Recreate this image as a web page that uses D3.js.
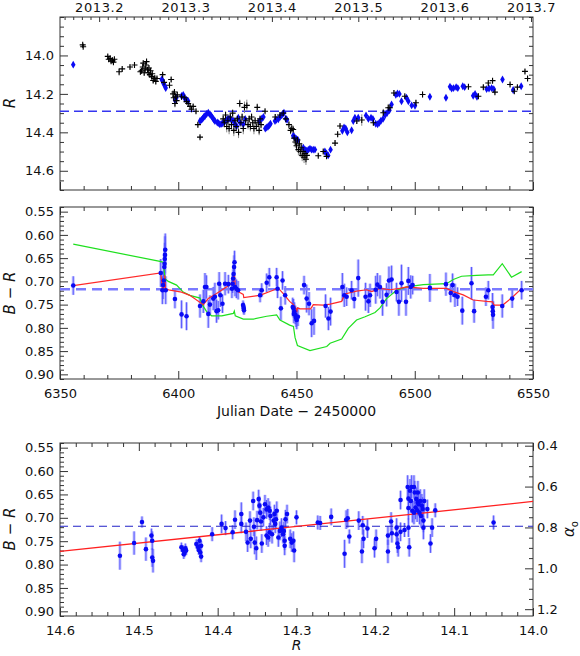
<!DOCTYPE html>
<html><head><meta charset="utf-8">
<script src="https://cdn.jsdelivr.net/npm/d3@7"></script>
<style>
body{margin:0;background:#fff}
svg text{font-family:"DejaVu Sans",sans-serif;fill:#111}
</style>
</head><body>
<svg id="c" width="580" height="656"></svg>
<script>
// ---------------- DATA ----------------
// Top panel: black R photometry (JD-2450000, R, error)
const blackJD = [6359.6,6359.8,6370.2,6370.6,6371.2,6371.6,6372.2,6372.6,6373.0,6375.0,6376.3,6379.6,6381.5,
6384.0,6384.5,6385.0,6385.2,6385.6,6386.0,6386.3,6386.6,6387.0,6387.3,6387.6,6388.0,6388.3,6388.7,6389.0,6389.4,6389.8,6390.1,6390.5,6391.0,
6393.4,6394.0,6396.3,6397.0,6397.8,6398.1,6398.4,6398.6,6398.9,6399.3,6399.6,6401.4,6402.8,6403.5,6404.2,6405.0,6405.6,6406.3,6407.5,6408.3,6409.2,
6419.0,6419.5,6420.0,6420.5,6421.0,6421.5,6422.0,6422.5,6423.0,6423.5,6424.0,6424.5,6425.0,6425.5,6426.0,6426.5,6427.0,6427.5,6428.0,6428.5,
6429.0,6429.5,6430.0,6430.5,6431.0,6431.5,6432.0,6432.5,6433.0,6433.4,6433.8,6434.2,6434.6,6435.0,6436.7,
6441.0,6443.0,6444.4,6445.5,6446.8,6447.5,6448.0,6448.6,6449.0,6449.5,6450.0,6450.4,6450.8,6451.2,6451.6,6452.0,6452.4,6452.8,6453.2,6453.6,6454.0,6454.4,
6459.2,6461.3,6462.7,6466.3,6467.4,6468.4,6475.5,6477.6,6482.5,6486.7,6488.8,6489.5,6491.2,6495.8,6500.5,6503.3,
6522.7,6526.9,6529.0,6531.1,6532.9,6533.9,6540.3,6542.1,6543.4,6546.6,6547.7];
const blackR = [13.945,13.955,14.005,14.02,14.015,14.03,14.025,14.035,14.02,14.085,14.07,14.06,14.05,
14.085,14.08,14.06,14.04,14.09,14.07,14.05,14.032,14.075,14.09,14.065,14.1,14.08,14.11,14.095,14.13,14.12,14.118,14.135,14.12,
14.1,14.14,14.155,14.125,14.2,14.22,14.19,14.25,14.215,14.235,14.205,14.215,14.22,14.24,14.25,14.265,14.28,14.265,14.29,14.36,14.425,
14.33,14.35,14.31,14.37,14.34,14.38,14.32,14.36,14.3,14.39,14.34,14.37,14.33,14.4,14.25,14.35,14.32,14.38,14.27,14.34,
14.26,14.36,14.33,14.37,14.32,14.35,14.38,14.34,14.37,14.27,14.35,14.39,14.33,14.36,14.29,
14.32,14.31,14.30,14.33,14.36,14.39,14.38,14.385,14.43,14.45,14.47,14.44,14.49,14.46,14.5,14.48,14.52,14.5,14.53,14.51,14.54,14.52,
14.522,14.50,14.525,14.456,14.41,14.367,14.341,14.336,14.35,14.298,14.272,14.272,14.195,14.212,14.246,14.203,
14.163,14.212,14.165,14.143,14.131,14.191,14.151,14.186,14.165,14.083,14.12];
const blackErr = [0.008,0.008,0.01,0.01,0.01,0.012,0.01,0.012,0.01,0.02,0.012,0.01,0.01,
0.015,0.015,0.012,0.015,0.015,0.012,0.012,0.01,0.015,0.015,0.012,0.015,0.012,0.015,0.012,0.015,0.015,0.012,0.015,0.012,
0.012,0.015,0.012,0.012,0.02,0.02,0.015,0.02,0.015,0.015,0.015,0.012,0.012,0.015,0.012,0.015,0.015,0.012,0.012,0.015,0.01,
0.02,0.025,0.02,0.03,0.02,0.03,0.02,0.025,0.02,0.03,0.02,0.025,0.02,0.03,0.02,0.025,0.02,0.03,0.03,0.02,
0.03,0.025,0.02,0.025,0.02,0.02,0.03,0.02,0.025,0.02,0.02,0.025,0.02,0.02,0.01,
0.015,0.015,0.015,0.02,0.02,0.02,0.02,0.02,0.03,0.03,0.03,0.02,0.03,0.025,0.03,0.025,0.03,0.025,0.03,0.025,0.03,0.025,
0.008,0.01,0.01,0.015,0.015,0.01,0.015,0.03,0.015,0.02,0.02,0.02,0.015,0.01,0.015,0.015,
0.01,0.015,0.012,0.012,0.012,0.012,0.01,0.012,0.01,0.012,0.012];

// Top panel: blue R photometry (JD-2450000, R)
const blueJD = [6355.6,6393.0,6393.4,6393.7,6394.0,6394.4,6394.7,6398.6,6399.2,6401.4,6402.1,6402.8,6403.5,6404.2,
6409.2,6409.8,6410.3,6410.8,6411.3,6412.0,6412.7,6413.4,6414.0,6414.5,6415.0,6415.5,6416.5,6417.0,6417.6,6418.2,6418.8,
6420.0,6420.7,6421.3,6421.9,6422.5,6423.3,6424.0,6424.7,6425.4,6426.1,6427.5,6428.3,6434.3,6435.3,6436.0,
6436.8,6437.4,6438.0,6438.5,6439.0,6440.9,6441.5,6442.3,6443.0,6443.7,6444.2,6444.7,6445.5,6446.0,
6448.6,6449.2,6450.0,6450.6,6452.9,6453.6,6454.3,6455.0,6455.7,6456.4,6457.1,6457.8,6462.0,6462.7,6463.4,6464.4,
6469.4,6470.1,6470.8,6471.5,6473.3,6474.0,6474.7,6476.1,6479.4,6480.4,6481.5,6482.3,6483.5,6484.3,6485.0,6485.7,
6486.6,6487.5,6488.3,6489.3,6490.2,6492.0,6492.7,6493.5,6494.4,6496.5,6497.3,6498.7,6500.1,6506.4,6513.2,
6514.9,6515.6,6516.4,6517.5,6518.2,6520.3,6521.1,6524.7,6525.5,6526.3,6530.4,6531.4,6532.5,6533.4,6537.1,6541.6,6545.0];
const blueR = [14.048,14.125,14.13,14.143,14.15,14.16,14.17,14.232,14.22,14.211,14.205,14.225,14.23,14.237,
14.341,14.335,14.329,14.32,14.315,14.305,14.298,14.306,14.315,14.324,14.333,14.341,14.349,14.352,14.358,14.356,14.353,
14.34,14.332,14.33,14.329,14.335,14.341,14.36,14.367,14.324,14.349,14.358,14.33,14.341,14.329,14.32,
14.38,14.375,14.37,14.363,14.355,14.341,14.335,14.332,14.32,14.311,14.305,14.298,14.329,14.335,
14.418,14.425,14.435,14.44,14.48,14.49,14.495,14.49,14.485,14.49,14.49,14.49,14.50,14.51,14.52,14.49,
14.392,14.375,14.38,14.40,14.389,14.341,14.324,14.324,14.312,14.33,14.324,14.33,14.355,14.358,14.35,14.34,
14.33,14.31,14.30,14.285,14.255,14.205,14.198,14.20,14.238,14.22,14.238,14.26,14.262,14.215,14.22,
14.163,14.172,14.17,14.165,14.17,14.16,14.165,14.21,14.20,14.215,14.175,14.172,14.17,14.175,14.125,14.18,14.16];
const meanR = 14.29;

// Year ticks for the top axis
const yearLabels = ["2013.2","2013.3","2013.4","2013.5","2013.6","2013.7"];

// Middle panel: B-R colour vs time
const colJD = [6355.6,6392.6,6393.3,6393.6,6393.9,6394.1,6394.2,6394.3,6394.4,6394.5,6394.7,6398.6,6401.4,6403.5,
6409.2,6410.6,6411.3,6411.9,6412.7,6413.4,6414.8,6415.5,6416.2,6416.9,6417.3,6417.8,6418.7,6419.8,6421.2,
6422.7,6423.0,6423.2,6423.4,6423.6,6423.8,6424.0,6424.6,6425.3,6427.4,6427.6,6427.7,6427.8,6434.6,6435.3,
6437.4,6438.5,6441.6,6442.0,6443.4,6444.1,6445.2,6448.4,6448.7,6449.1,6449.5,6449.8,6450.1,6450.6,6448.9,
6453.2,6454.3,6455.3,6456.4,6457.4,6462.3,6463.5,6464.4,6469.4,6470.2,6471.2,6473.3,6474.4,6476.1,6479.2,
6480.4,6481.1,6483.5,6484.2,6485.3,6486.4,6488.1,6489.1,6490.2,6492.3,6493.3,6494.4,6496.3,6497.3,6498.3,
6499.1,6506.4,6513.2,6515.2,6516.0,6517.0,6518.1,6520.1,6524.0,6525.1,6530.1,6531.1,6532.9,6533.0,6533.1,
6537.0,6541.2,6545.2];
const colBR = [0.709,0.682,0.719,0.708,0.698,0.669,0.662,0.652,0.643,0.632,0.719,0.738,0.771,0.775,
0.753,0.743,0.712,0.712,0.770,0.750,0.737,0.733,0.764,0.762,0.705,0.730,0.748,0.705,0.706,
0.716,0.705,0.694,0.684,0.669,0.659,0.712,0.716,0.719,0.751,0.755,0.759,0.762,0.730,0.719,
0.703,0.691,0.691,0.716,0.758,0.698,0.730,0.755,0.758,0.765,0.772,0.778,0.783,0.776,0.770,
0.708,0.737,0.748,0.790,0.785,0.753,0.780,0.765,0.712,0.730,0.733,0.719,0.738,0.693,0.733,
0.743,0.730,0.718,0.707,0.712,0.744,0.729,0.698,0.696,0.723,0.744,0.704,0.744,0.699,0.712,
0.708,0.714,0.706,0.725,0.708,0.730,0.733,0.763,0.704,0.764,0.733,0.719,0.755,0.764,0.772,
0.753,0.737,0.719];
const colErr = [0.02,0.03,0.03,0.03,0.025,0.03,0.03,0.035,0.04,0.035,0.03,0.02,0.03,0.03,
0.025,0.025,0.03,0.025,0.03,0.02,0.025,0.03,0.025,0.02,0.025,0.025,0.02,0.025,0.02,
0.02,0.02,0.02,0.025,0.025,0.025,0.02,0.02,0.02,0.01,0.01,0.01,0.01,0.015,0.015,
0.02,0.02,0.02,0.02,0.025,0.02,0.02,0.02,0.02,0.02,0.02,0.02,0.02,0.02,0.02,
0.02,0.03,0.025,0.03,0.03,0.025,0.025,0.03,0.03,0.025,0.02,0.02,0.02,0.04,0.03,
0.025,0.025,0.03,0.025,0.025,0.03,0.025,0.03,0.03,0.02,0.03,0.04,0.03,0.03,0.025,
0.02,0.03,0.025,0.02,0.025,0.025,0.02,0.03,0.035,0.025,0.02,0.02,0.03,0.02,0.03,
0.025,0.02,0.02];
const meanBR = 0.717;

// Middle panel: red and green curves
const redJD = [6355.6,6392.6,6393.4,6394.0,6394.3,6394.6,6396.5,6401.4,6404.9,6410.6,6412.7,6416.2,6420.4,6423.2,6423.7,6424.2,
6427.5,6427.7,6434.5,6440.1,6442.2,6444.3,6447.1,6448.7,6449.8,6450.1,6450.4,6451.5,6456.0,6457.1,6461.3,6464.2,6469.1,
6470.5,6475.4,6479.7,6481.8,6485.3,6489.5,6493.7,6496.6,6503.6,6513.4,6516.3,6520.5,6524.7,6530.4,6532.9,6533.5,6537.2,
6541.3,6545.2];
const redBR = [0.709,0.682,0.719,0.712,0.687,0.716,0.719,0.723,0.730,0.750,0.737,0.726,0.712,0.701,0.681,0.719,
0.728,0.735,0.730,0.719,0.714,0.726,0.743,0.750,0.759,0.766,0.757,0.759,0.759,0.750,0.751,0.749,0.743,
0.727,0.721,0.718,0.722,0.715,0.718,0.715,0.712,0.715,0.715,0.722,0.729,0.740,0.743,0.744,0.751,0.751,
0.734,0.715];
const greenJD = [6355.6,6392.3,6393.7,6394.4,6395.8,6399.3,6402.1,6404.9,6409.2,6409.9,6412.0,6414.1,6418.4,6423.3,6423.7,
6424.1,6427.5,6431.8,6437.4,6441.6,6443.0,6447.1,6448.7,6449.4,6450.4,6455.7,6462.8,6464.2,6469.1,6471.9,6475.4,
6479.0,6483.2,6485.3,6488.1,6492.3,6496.6,6503.6,6513.4,6516.3,6519.8,6526.1,6531.0,6533.2,6537.0,6540.9,6545.2];
const greenBR = [0.620,0.657,0.659,0.694,0.700,0.708,0.723,0.730,0.736,0.748,0.765,0.774,0.774,0.769,0.764,
0.774,0.781,0.781,0.775,0.772,0.783,0.794,0.797,0.821,0.838,0.849,0.840,0.833,0.824,0.801,0.783,
0.776,0.767,0.757,0.737,0.719,0.712,0.707,0.705,0.696,0.689,0.687,0.686,0.686,0.662,0.691,0.679];

// Bottom panel: B-R vs R
const ccR = [14.524,14.506,14.496,14.491,14.484,14.483,14.483,14.482,14.446,14.444,14.442,14.441,14.440,14.443,
14.427,14.425,14.424,14.422,14.421,14.421,14.423,14.407,14.395,14.390,14.381,14.378,14.370,14.370,14.364,14.362,
14.359,14.358,14.355,14.354,14.353,14.351,14.350,14.348,14.347,14.346,14.345,14.344,14.342,14.340,14.338,14.336,
14.334,14.333,14.338,14.336,14.334,14.331,14.329,14.328,14.327,14.326,14.325,14.323,14.321,14.319,14.317,14.316,
14.315,14.314,14.312,14.315,14.308,14.306,14.304,14.303,14.300,14.273,14.270,14.256,14.239,14.237,14.235,14.233,
14.221,14.217,14.216,14.215,14.210,14.201,14.199,14.184,14.184,14.180,14.179,14.173,14.173,14.172,14.171,14.168,
14.168,14.163,14.159,14.158,14.158,14.158,14.157,14.156,14.155,14.154,14.153,14.151,14.151,14.150,14.149,14.148,
14.147,14.146,14.146,14.145,14.144,14.143,14.142,14.141,14.140,14.139,14.139,14.138,14.134,14.130,14.128,14.124,
14.050];
const ccBR = [0.781,0.754,0.709,0.767,0.738,0.749,0.785,0.792,0.763,0.769,0.774,0.765,0.770,0.778,
0.756,0.762,0.769,0.774,0.760,0.783,0.749,0.735,0.713,0.722,0.731,0.704,0.692,0.713,0.730,0.753,
0.706,0.745,0.664,0.719,0.753,0.765,0.705,0.660,0.674,0.689,0.708,0.755,0.699,0.671,0.682,0.678,
0.685,0.696,0.738,0.742,0.731,0.735,0.706,0.692,0.713,0.703,0.685,0.742,0.728,0.721,0.735,0.728,
0.749,0.703,0.692,0.760,0.745,0.753,0.749,0.770,0.699,0.710,0.711,0.698,0.777,0.704,0.701,0.740,
0.706,0.772,0.716,0.745,0.723,0.765,0.745,0.772,0.738,0.708,0.733,0.735,0.721,0.755,0.763,0.662,
0.730,0.726,0.634,0.659,0.679,0.721,0.763,0.642,0.664,0.634,0.685,0.634,0.689,0.646,0.678,0.660,
0.684,0.667,0.646,0.671,0.689,0.664,0.696,0.674,0.681,0.721,0.706,0.664,0.681,0.755,0.721,0.684,
0.710];
const ccErr = [0.03,0.025,0.012,0.025,0.015,0.02,0.02,0.025,0.01,0.01,0.01,0.01,0.01,0.01,
0.01,0.01,0.01,0.012,0.01,0.012,0.01,0.015,0.02,0.015,0.015,0.02,0.025,0.02,0.02,0.02,
0.02,0.02,0.02,0.02,0.025,0.025,0.02,0.02,0.02,0.02,0.02,0.02,0.02,0.02,0.02,0.02,
0.02,0.02,0.02,0.02,0.02,0.02,0.02,0.02,0.02,0.02,0.02,0.02,0.02,0.02,0.02,0.02,
0.02,0.02,0.02,0.02,0.02,0.02,0.02,0.025,0.015,0.015,0.015,0.018,0.03,0.02,0.02,0.015,
0.02,0.025,0.02,0.02,0.02,0.02,0.02,0.025,0.02,0.02,0.02,0.02,0.02,0.02,0.02,0.02,
0.02,0.015,0.025,0.025,0.025,0.02,0.02,0.025,0.025,0.025,0.025,0.025,0.025,0.025,0.025,0.025,
0.025,0.025,0.025,0.025,0.025,0.025,0.025,0.025,0.025,0.025,0.025,0.025,0.02,0.02,0.02,0.015,
0.015];
const fitR = [14.6, 14.0];
const fitBR = [0.772, 0.665];
const meanBR2 = 0.718;

// Tick values
const jdMajor = [6350,6400,6450,6500,6550];
const rMajorTop = [14.0,14.2,14.4,14.6];
const brMajor = [0.55,0.60,0.65,0.70,0.75,0.80,0.85,0.90];
const rMajorBottom = [14.6,14.5,14.4,14.3,14.2,14.1,14.0];
const alphaMajor = [0.4,0.6,0.8,1.0,1.2];

// ---------------- DRAWING ----------------
const svg = d3.select("#c");
const L = 60, Rt = 533;
const P1 = [17,190], P2 = [207,379], P3 = [443,616];

const xJD = d3.scaleLinear([6350,6550],[L,Rt]);
const yR = d3.scaleLinear([13.8,14.7],P1);
const yBR = d3.scaleLinear([0.54,0.91],P2);
const xRb = d3.scaleLinear([14.6,14.0],[L,Rt]);
const yBRb = d3.scaleLinear([0.54,0.91],P3);
// alpha linked linearly to B-R
const alphaOf = br => 0.8 + (br - 0.7206)*2.288;
const yAl = d3.scaleLinear([alphaOf(0.54),alphaOf(0.91)],P3);
const yearToJD = y => 6293.5 + (y-2013)*365.25;

const seq = (a,b,s) => { const n=Math.round((b-a)/s); const out=[]; for(let i=0;i<=n;i++) out.push(+(a+i*s).toFixed(4)); return out; };
const minus = (arr, maj) => arr.filter(v => !maj.some(m => Math.abs(m-v)<1e-6));

const FS = 13;
function axis(gen, scale, vals, size, fmt, pad, tr, fs) {
  const g = svg.append("g").attr("transform", tr)
    .call(gen(scale).tickValues(vals).tickSize(size).tickPadding(pad).tickFormat(fmt));
  g.select(".domain").remove();
  g.selectAll("line").attr("stroke","#333").attr("stroke-width",1);
  g.selectAll("text").attr("font-size",fs||FS).attr("font-family","DejaVu Sans, sans-serif").attr("fill","#111");
  return g;
}
const none = () => "";

function frame(y0,y1){
  svg.append("rect").attr("x",L).attr("y",y0).attr("width",Rt-L).attr("height",y1-y0)
    .attr("fill","none").attr("stroke","#333").attr("stroke-width",1);
}

function errBars(g, xs, ys, es, xS, yS){
  xs.forEach((d,i)=>{
    const x = xS(d);
    g.append("line").attr("x1",x).attr("x2",x).attr("y1",yS(ys[i]-es[i])).attr("y2",yS(ys[i]+es[i]))
      .attr("stroke","#a6a6ff").attr("stroke-opacity",0.7).attr("stroke-width",3);
  });
  xs.forEach((d,i)=>{
    const x = xS(d);
    g.append("line").attr("x1",x).attr("x2",x).attr("y1",yS(ys[i]-es[i])).attr("y2",yS(ys[i]+es[i]))
      .attr("stroke","#4646ff").attr("stroke-opacity",0.85).attr("stroke-width",1);
  });
}

// ---- panel 1 ----
const jdMinor = minus(seq(6350,6550,10), jdMajor);
axis(d3.axisLeft, yR, rMajorTop, -8, d3.format(".1f"), 6, `translate(${L},0)`);
axis(d3.axisLeft, yR, minus(seq(13.8,14.7,0.05), rMajorTop), -4, none, 0, `translate(${L},0)`);
axis(d3.axisRight, yR, rMajorTop, -8, none, 0, `translate(${Rt},0)`);
axis(d3.axisRight, yR, minus(seq(13.8,14.7,0.05), rMajorTop), -4, none, 0, `translate(${Rt},0)`);
axis(d3.axisBottom, xJD, jdMajor, -8, none, 0, `translate(0,${P1[1]})`);
axis(d3.axisBottom, xJD, jdMinor, -4, none, 0, `translate(0,${P1[1]})`);
const yrVals = yearLabels.map(Number);
const yrAxisScale = d3.scaleLinear([2013,2014],[xJD(yearToJD(2013)), xJD(yearToJD(2014))]);
const yrAx = axis(d3.axisTop, yrAxisScale, yrVals, -5, (d,i)=>yearLabels[i], 5, `translate(0,${P1[0]})`, 13);
yrAx.selectAll("text").attr("letter-spacing","0.6px");
const yrMinor = minus(seq(2013.16,2013.72,0.01), yrVals).filter(v => yearToJD(v)>=6350 && yearToJD(v)<=6550);
axis(d3.axisTop, yrAxisScale, yrMinor, -3, none, 0, `translate(0,${P1[0]})`);
frame(P1[0],P1[1]);

const g1 = svg.append("g");
g1.append("line").attr("x1",L).attr("x2",Rt).attr("y1",yR(meanR)).attr("y2",yR(meanR))
  .attr("stroke","#3535f0").attr("stroke-width",1.4).attr("stroke-dasharray","9,5");
blackJD.forEach((d,i)=>{
  const x = xJD(d);
  g1.append("line").attr("x1",x).attr("x2",x).attr("y1",yR(blackR[i]-blackErr[i])).attr("y2",yR(blackR[i]+blackErr[i]))
    .attr("stroke","#8a8a8a").attr("stroke-width",1);
});
blueJD.forEach((d,i)=>{
  g1.append("path").attr("d", d3.symbol(d3.symbolDiamond, 18)())
    .attr("transform",`translate(${xJD(d)},${yR(blueR[i])})`).attr("fill","#0a0af5");
});
blackJD.forEach((d,i)=>{
  const x = xJD(d), y = yR(blackR[i]);
  g1.append("path").attr("d",`M${x-3},${y}H${x+3}M${x},${y-3}V${y+3}`).attr("stroke","#000").attr("stroke-width",1.1);
});
svg.append("text").attr("transform","translate(15,103) rotate(-90)").attr("text-anchor","middle")
  .attr("font-size",15).attr("font-style","italic").text("R");

// ---- panel 2 ----
const brMinor = minus(seq(0.54,0.91,0.01), brMajor);
axis(d3.axisLeft, yBR, brMajor, -8, d3.format(".2f"), 6, `translate(${L},0)`);
axis(d3.axisLeft, yBR, brMinor, -4, none, 0, `translate(${L},0)`);
axis(d3.axisRight, yBR, brMajor, -8, none, 0, `translate(${Rt},0)`);
axis(d3.axisRight, yBR, brMinor, -4, none, 0, `translate(${Rt},0)`);
axis(d3.axisBottom, xJD, jdMajor, -8, d3.format("d"), 10, `translate(0,${P2[1]})`);
axis(d3.axisBottom, xJD, jdMinor, -4, none, 0, `translate(0,${P2[1]})`);
axis(d3.axisTop, xJD, jdMajor, -8, none, 0, `translate(0,${P2[0]})`);
axis(d3.axisTop, xJD, jdMinor, -4, none, 0, `translate(0,${P2[0]})`);
frame(P2[0],P2[1]);

const g2 = svg.append("g");
errBars(g2, colJD, colBR, colErr, xJD, yBR);
g2.append("line").attr("x1",L).attr("x2",Rt).attr("y1",yBR(meanBR)).attr("y2",yBR(meanBR))
  .attr("stroke","#7a7aff").attr("stroke-width",2.6).attr("stroke-dasharray","10,6");
const lineJD = d3.line().x(d=>xJD(d[0])).y(d=>yBR(d[1]));
g2.append("path").attr("d", lineJD(greenJD.map((d,i)=>[d,greenBR[i]]))).attr("fill","none").attr("stroke","#1ee01e").attr("stroke-width",1.2);
g2.append("path").attr("d", lineJD(redJD.map((d,i)=>[d,redBR[i]]))).attr("fill","none").attr("stroke","#ff2a2a").attr("stroke-width",1.2);
colJD.forEach((d,i)=>{
  g2.append("circle").attr("cx",xJD(d)).attr("cy",yBR(colBR[i])).attr("r",2.3).attr("fill","#0a0af5");
});
const brLab = svg.append("text").attr("transform","translate(15,293) rotate(-90)").attr("text-anchor","middle").attr("font-size",15);
brLab.append("tspan").attr("font-style","italic").text("B");
brLab.append("tspan").text(" \u2212 ");
brLab.append("tspan").attr("font-style","italic").text("R");
svg.append("text").attr("x",(L+Rt)/2).attr("y",416).attr("text-anchor","middle").attr("font-size",14)
  .text("Julian Date \u2212 2450000");

// ---- panel 3 ----
axis(d3.axisLeft, yBRb, brMajor, -8, d3.format(".2f"), 6, `translate(${L},0)`);
axis(d3.axisLeft, yBRb, brMinor, -4, none, 0, `translate(${L},0)`);
const alMinor = minus(seq(0.4,1.2,0.05), alphaMajor);
axis(d3.axisRight, yAl, alphaMajor, -8, d3.format(".1f"), 4, `translate(${Rt},0)`);
axis(d3.axisRight, yAl, alMinor, -4, none, 0, `translate(${Rt},0)`);
const rbMinor = minus(seq(14.0,14.6,0.02), rMajorBottom);
axis(d3.axisBottom, xRb, rMajorBottom, -8, d3.format(".1f"), 10, `translate(0,${P3[1]})`);
axis(d3.axisBottom, xRb, rbMinor, -4, none, 0, `translate(0,${P3[1]})`);
axis(d3.axisTop, xRb, rMajorBottom, -8, none, 0, `translate(0,${P3[0]})`);
axis(d3.axisTop, xRb, rbMinor, -4, none, 0, `translate(0,${P3[0]})`);
frame(P3[0],P3[1]);

const g3 = svg.append("g");
errBars(g3, ccR, ccBR, ccErr, xRb, yBRb);
g3.append("line").attr("x1",L).attr("x2",Rt).attr("y1",yBRb(meanBR2)).attr("y2",yBRb(meanBR2))
  .attr("stroke","#2222c8").attr("stroke-width",1.2).attr("stroke-dasharray","8,5");
g3.append("line").attr("x1",xRb(fitR[0])).attr("x2",xRb(fitR[1])).attr("y1",yBRb(fitBR[0])).attr("y2",yBRb(fitBR[1]))
  .attr("stroke","#ff2020").attr("stroke-width",1.3);
ccR.forEach((d,i)=>{
  g3.append("circle").attr("cx",xRb(d)).attr("cy",yBRb(ccBR[i])).attr("r",2.3).attr("fill","#0a0af5");
});
const brLab2 = svg.append("text").attr("transform","translate(15,529) rotate(-90)").attr("text-anchor","middle").attr("font-size",15);
brLab2.append("tspan").attr("font-style","italic").text("B");
brLab2.append("tspan").text(" \u2212 ");
brLab2.append("tspan").attr("font-style","italic").text("R");
svg.append("text").attr("x",(L+Rt)/2).attr("y",650).attr("text-anchor","middle").attr("font-size",14)
  .attr("font-style","italic").text("R");
const alLab = svg.append("text").attr("transform","translate(574,529) rotate(-90)").attr("text-anchor","middle").attr("font-size",15);
alLab.append("tspan").attr("font-style","italic").text("\u03b1");
alLab.append("tspan").attr("font-size",10).attr("dy",4).text("o");
</script>
</body></html>
